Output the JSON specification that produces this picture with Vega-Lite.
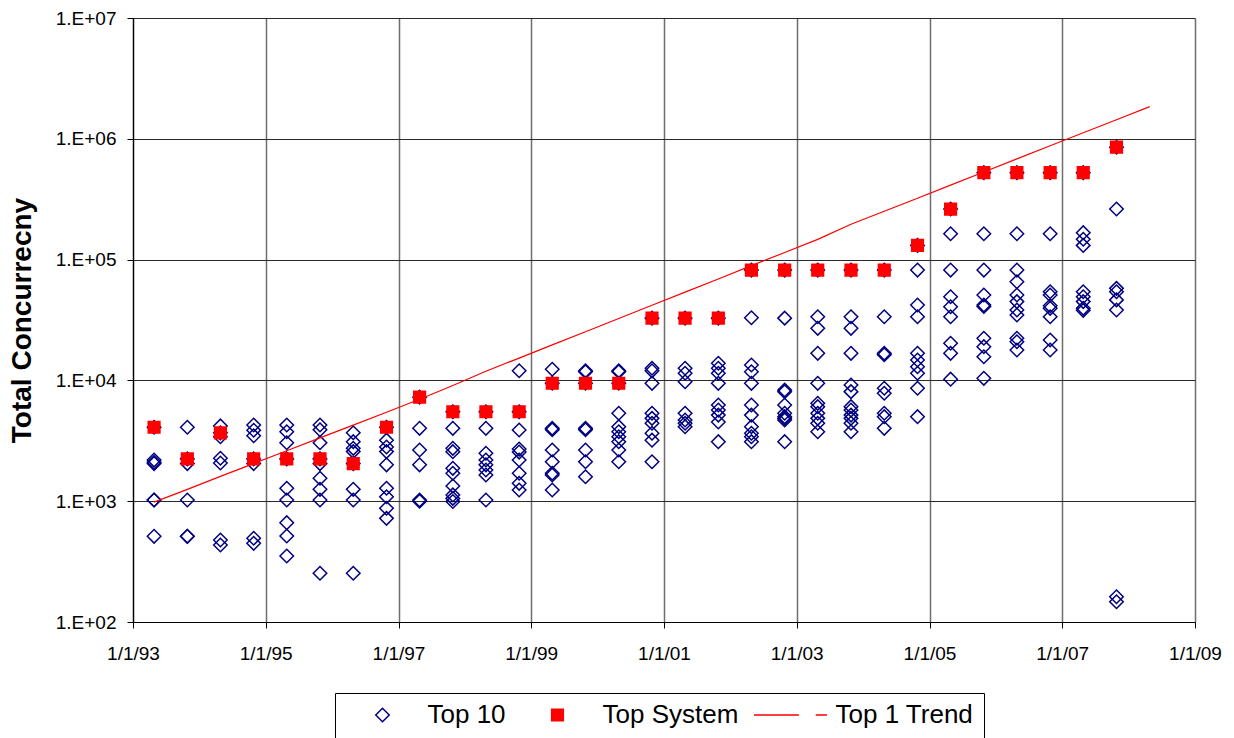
{
  "$schema": "https://vega.github.io/schema/vega-lite/v6.json",
  "autosize": "none",
  "width": 1062,
  "height": 604,
  "padding": {"left": 133, "top": 18, "right": 39, "bottom": 116},
  "background": "white",
  "config": {
    "view": {"stroke": null},
    "font": "Liberation Sans",
    "legend": {
      "orient": "none", "legendX": 202, "legendY": 675,
      "direction": "horizontal", "columns": 3,
      "strokeColor": "#000000", "fillColor": "#ffffff", "padding": 10,
      "columnPadding": 14, "symbolSize": 5329, "symbolStrokeWidth": 1.5,
      "labelFontSize": 26, "labelFont": "Liberation Sans", "labelColor": "#000000",
      "labelOffset": 7.5, "clipHeight": 24, "labelLimit": 300
    }
  },
  "datasets": {
    "top10": [
      {"date":"1993-04-27","value":4096},{"date":"1993-04-27","value":2190},{"date":"1993-04-27","value":2100},{"date":"1993-04-27","value":2048},{"date":"1993-04-27","value":1024},{"date":"1993-04-27","value":1024},{"date":"1993-04-27","value":512},
      {"date":"1993-10-27","value":4096},{"date":"1993-10-27","value":2240},{"date":"1993-10-27","value":2048},{"date":"1993-10-27","value":1024},{"date":"1993-10-27","value":512},{"date":"1993-10-27","value":512},
      {"date":"1994-04-27","value":4200},{"date":"1994-04-27","value":3680},{"date":"1994-04-27","value":3420},{"date":"1994-04-27","value":2270},{"date":"1994-04-27","value":2070},{"date":"1994-04-27","value":477},{"date":"1994-04-27","value":434},
      {"date":"1994-10-27","value":4270},{"date":"1994-10-27","value":3870},{"date":"1994-10-27","value":3480},{"date":"1994-10-27","value":2240},{"date":"1994-10-27","value":2048},{"date":"1994-10-27","value":494},{"date":"1994-10-27","value":448},
      {"date":"1995-04-27","value":4276},{"date":"1995-04-27","value":3760},{"date":"1995-04-27","value":3050},{"date":"1995-04-27","value":2240},{"date":"1995-04-27","value":1280},{"date":"1995-04-27","value":1024},{"date":"1995-04-27","value":664},{"date":"1995-04-27","value":515},{"date":"1995-04-27","value":352},
      {"date":"1995-10-27","value":4276},{"date":"1995-10-27","value":3900},{"date":"1995-10-27","value":3050},{"date":"1995-10-27","value":2240},{"date":"1995-10-27","value":2048},{"date":"1995-10-27","value":1549},{"date":"1995-10-27","value":1254},{"date":"1995-10-27","value":1024},{"date":"1995-10-27","value":253},
      {"date":"1996-04-27","value":3690},{"date":"1996-04-27","value":3110},{"date":"1996-04-27","value":2740},{"date":"1996-04-27","value":2573},{"date":"1996-04-27","value":2048},{"date":"1996-04-27","value":1254},{"date":"1996-04-27","value":1024},{"date":"1996-04-27","value":253},
      {"date":"1996-10-27","value":4096},{"date":"1996-10-27","value":3200},{"date":"1996-10-27","value":2810},{"date":"1996-10-27","value":2573},{"date":"1996-10-27","value":2000},{"date":"1996-10-27","value":1280},{"date":"1996-10-27","value":1089},{"date":"1996-10-27","value":874},{"date":"1996-10-27","value":721},
      {"date":"1997-04-27","value":7264},{"date":"1997-04-27","value":4010},{"date":"1997-04-27","value":2655},{"date":"1997-04-27","value":2000},{"date":"1997-04-27","value":1024},{"date":"1997-04-27","value":1000},
      {"date":"1997-10-27","value":5500},{"date":"1997-10-27","value":4010},{"date":"1997-10-27","value":2740},{"date":"1997-10-27","value":2570},{"date":"1997-10-27","value":1871},{"date":"1997-10-27","value":1702},{"date":"1997-10-27","value":1336},{"date":"1997-10-27","value":1127},{"date":"1997-10-27","value":1055},{"date":"1997-10-27","value":994},
      {"date":"1998-04-27","value":5500},{"date":"1998-04-27","value":4010},{"date":"1998-04-27","value":2494},{"date":"1998-04-27","value":2193},{"date":"1998-04-27","value":2000},{"date":"1998-04-27","value":1811},{"date":"1998-04-27","value":1648},{"date":"1998-04-27","value":1024},
      {"date":"1998-10-27","value":12020},{"date":"1998-10-27","value":5500},{"date":"1998-10-27","value":3883},{"date":"1998-10-27","value":2700},{"date":"1998-10-27","value":2550},{"date":"1998-10-27","value":2193},{"date":"1998-10-27","value":1702},{"date":"1998-10-27","value":1406},{"date":"1998-10-27","value":1239},
      {"date":"1999-04-27","value":12360},{"date":"1999-04-27","value":9472},{"date":"1999-04-27","value":4010},{"date":"1999-04-27","value":3900},{"date":"1999-04-27","value":2655},{"date":"1999-04-27","value":2123},{"date":"1999-04-27","value":1702},{"date":"1999-04-27","value":1648},{"date":"1999-04-27","value":1239},
      {"date":"1999-10-27","value":12000},{"date":"1999-10-27","value":11800},{"date":"1999-10-27","value":9472},{"date":"1999-10-27","value":4010},{"date":"1999-10-27","value":3900},{"date":"1999-10-27","value":2655},{"date":"1999-10-27","value":2123},{"date":"1999-10-27","value":1595},
      {"date":"2000-04-27","value":12000},{"date":"2000-04-27","value":11800},{"date":"2000-04-27","value":9472},{"date":"2000-04-27","value":5346},{"date":"2000-04-27","value":4140},{"date":"2000-04-27","value":3760},{"date":"2000-04-27","value":3420},{"date":"2000-04-27","value":3110},{"date":"2000-04-27","value":2655},{"date":"2000-04-27","value":2123},
      {"date":"2000-10-27","value":32768},{"date":"2000-10-27","value":12600},{"date":"2000-10-27","value":12000},{"date":"2000-10-27","value":9460},{"date":"2000-10-27","value":5346},{"date":"2000-10-27","value":4850},{"date":"2000-10-27","value":4420},{"date":"2000-10-27","value":3648},{"date":"2000-10-27","value":3200},{"date":"2000-10-27","value":2123},
      {"date":"2001-04-27","value":32768},{"date":"2001-04-27","value":12600},{"date":"2001-04-27","value":11460},{"date":"2001-04-27","value":9750},{"date":"2001-04-27","value":5346},{"date":"2001-04-27","value":4700},{"date":"2001-04-27","value":4420},{"date":"2001-04-27","value":4140},
      {"date":"2001-10-27","value":32768},{"date":"2001-10-27","value":13870},{"date":"2001-10-27","value":12600},{"date":"2001-10-27","value":11460},{"date":"2001-10-27","value":9460},{"date":"2001-10-27","value":6250},{"date":"2001-10-27","value":5680},{"date":"2001-10-27","value":5160},{"date":"2001-10-27","value":4530},{"date":"2001-10-27","value":3110},
      {"date":"2002-04-27","value":81920},{"date":"2002-04-27","value":33030},{"date":"2002-04-27","value":13400},{"date":"2002-04-27","value":11800},{"date":"2002-04-27","value":9460},{"date":"2002-04-27","value":6250},{"date":"2002-04-27","value":5160},{"date":"2002-04-27","value":4140},{"date":"2002-04-27","value":3650},{"date":"2002-04-27","value":3420},{"date":"2002-04-27","value":3110},
      {"date":"2002-10-27","value":81920},{"date":"2002-10-27","value":32768},{"date":"2002-10-27","value":8320},{"date":"2002-10-27","value":8070},{"date":"2002-10-27","value":6250},{"date":"2002-10-27","value":5346},{"date":"2002-10-27","value":5010},{"date":"2002-10-27","value":4850},{"date":"2002-10-27","value":4700},{"date":"2002-10-27","value":3110},
      {"date":"2003-04-27","value":81920},{"date":"2003-04-27","value":33650},{"date":"2003-04-27","value":26980},{"date":"2003-04-27","value":16750},{"date":"2003-04-27","value":9460},{"date":"2003-04-27","value":6460},{"date":"2003-04-27","value":6060},{"date":"2003-04-27","value":5346},{"date":"2003-04-27","value":4850},{"date":"2003-04-27","value":4420},{"date":"2003-04-27","value":3760},
      {"date":"2003-10-27","value":81920},{"date":"2003-10-27","value":33650},{"date":"2003-10-27","value":26980},{"date":"2003-10-27","value":16750},{"date":"2003-10-27","value":9160},{"date":"2003-10-27","value":8070},{"date":"2003-10-27","value":6060},{"date":"2003-10-27","value":5680},{"date":"2003-10-27","value":5160},{"date":"2003-10-27","value":4850},{"date":"2003-10-27","value":4420},{"date":"2003-10-27","value":3760},
      {"date":"2004-04-27","value":81920},{"date":"2004-04-27","value":33650},{"date":"2004-04-27","value":16750},{"date":"2004-04-27","value":16300},{"date":"2004-04-27","value":8610},{"date":"2004-04-27","value":7820},{"date":"2004-04-27","value":5346},{"date":"2004-04-27","value":5010},{"date":"2004-04-27","value":4010},
      {"date":"2004-10-27","value":131072},{"date":"2004-10-27","value":81920},{"date":"2004-10-27","value":42100},{"date":"2004-10-27","value":33650},{"date":"2004-10-27","value":16750},{"date":"2004-10-27","value":14760},{"date":"2004-10-27","value":12970},{"date":"2004-10-27","value":11460},{"date":"2004-10-27","value":8610},{"date":"2004-10-27","value":5010},
      {"date":"2005-04-27","value":262144},{"date":"2005-04-27","value":163840},{"date":"2005-04-27","value":81920},{"date":"2005-04-27","value":49300},{"date":"2005-04-27","value":40700},{"date":"2005-04-27","value":33650},{"date":"2005-04-27","value":20280},{"date":"2005-04-27","value":16750},{"date":"2005-04-27","value":10240},
      {"date":"2005-10-27","value":524288},{"date":"2005-10-27","value":163840},{"date":"2005-10-27","value":81920},{"date":"2005-10-27","value":50900},{"date":"2005-10-27","value":42100},{"date":"2005-10-27","value":40960},{"date":"2005-10-27","value":22330},{"date":"2005-10-27","value":19020},{"date":"2005-10-27","value":15700},{"date":"2005-10-27","value":10400},
      {"date":"2006-04-27","value":524288},{"date":"2006-04-27","value":163840},{"date":"2006-04-27","value":81920},{"date":"2006-04-27","value":65600},{"date":"2006-04-27","value":50900},{"date":"2006-04-27","value":44900},{"date":"2006-04-27","value":38300},{"date":"2006-04-27","value":34800},{"date":"2006-04-27","value":22330},{"date":"2006-04-27","value":20900},{"date":"2006-04-27","value":17860},
      {"date":"2006-10-27","value":524288},{"date":"2006-10-27","value":163840},{"date":"2006-10-27","value":54200},{"date":"2006-10-27","value":50900},{"date":"2006-10-27","value":41500},{"date":"2006-10-27","value":39500},{"date":"2006-10-27","value":33650},{"date":"2006-10-27","value":21600},{"date":"2006-10-27","value":17860},
      {"date":"2007-04-27","value":524288},{"date":"2007-04-27","value":167100},{"date":"2007-04-27","value":147300},{"date":"2007-04-27","value":131072},{"date":"2007-04-27","value":54200},{"date":"2007-04-27","value":49300},{"date":"2007-04-27","value":44900},{"date":"2007-04-27","value":39500},{"date":"2007-04-27","value":38000},
      {"date":"2007-10-27","value":851968},{"date":"2007-10-27","value":262144},{"date":"2007-10-27","value":57800},{"date":"2007-10-27","value":54200},{"date":"2007-10-27","value":46400},{"date":"2007-10-27","value":38300},{"date":"2007-10-27","value":162},{"date":"2007-10-27","value":147}
    ],
    "topsys": [
      {"date":"1993-04-27","value":4096},{"date":"1993-10-27","value":2240},{"date":"1994-04-27","value":3680},{"date":"1994-10-27","value":2240},
      {"date":"1995-04-27","value":2240},{"date":"1995-10-27","value":2240},{"date":"1996-04-27","value":2048},{"date":"1996-10-27","value":4096},
      {"date":"1997-04-27","value":7264},{"date":"1997-10-27","value":5500},{"date":"1998-04-27","value":5500},{"date":"1998-10-27","value":5500},
      {"date":"1999-04-27","value":9472},{"date":"1999-10-27","value":9472},{"date":"2000-04-27","value":9472},{"date":"2000-10-27","value":32768},
      {"date":"2001-04-27","value":32768},{"date":"2001-10-27","value":32768},{"date":"2002-04-27","value":81920},{"date":"2002-10-27","value":81920},
      {"date":"2003-04-27","value":81920},{"date":"2003-10-27","value":81920},{"date":"2004-04-27","value":81920},{"date":"2004-10-27","value":131072},
      {"date":"2005-04-27","value":262144},{"date":"2005-10-27","value":524288},{"date":"2006-04-27","value":524288},{"date":"2006-10-27","value":524288},
      {"date":"2007-04-27","value":524288},{"date":"2007-10-27","value":851968}
    ],
    "trend": [
      {"date":"1993-04-27","value":983},{"date":"1993-10-27","value":1254},{"date":"1994-04-27","value":1605},{"date":"1994-10-27","value":2048},
      {"date":"1995-04-27","value":2618},{"date":"1995-10-27","value":3342},{"date":"1996-04-27","value":4266},{"date":"1996-10-27","value":5455},
      {"date":"1997-04-27","value":6974},{"date":"1997-10-27","value":9073},{"date":"1998-04-27","value":11920},{"date":"1998-10-27","value":15295},
      {"date":"1999-04-27","value":19670},{"date":"1999-10-27","value":25300},{"date":"2000-04-27","value":32540},{"date":"2000-10-27","value":41840},
      {"date":"2001-04-27","value":53830},{"date":"2001-10-27","value":69080},{"date":"2002-04-27","value":89190},{"date":"2002-10-27","value":114460},
      {"date":"2003-04-27","value":146940},{"date":"2003-10-27","value":195970},{"date":"2004-04-27","value":251580},{"date":"2004-10-27","value":322300},
      {"date":"2005-04-27","value":413700},{"date":"2005-10-27","value":531200},{"date":"2006-04-27","value":681700},{"date":"2006-10-27","value":875400},
      {"date":"2007-04-27","value":1121000},{"date":"2007-10-27","value":1439000},{"date":"2008-04-27","value":1848000}
    ]
  },
  "encoding": {
    "x": {
      "field": "date", "type": "temporal",
      "scale": {"type": "utc", "nice": false, "domain": [{"year":1993,"month":1,"date":1,"utc":true},{"year":2009,"month":1,"date":1,"utc":true}]},
      "axis": {
        "title": null,
        "values": [{"year":1993,"month":1,"date":1,"utc":true},{"year":1995,"month":1,"date":1,"utc":true},{"year":1997,"month":1,"date":1,"utc":true},{"year":1999,"month":1,"date":1,"utc":true},{"year":2001,"month":1,"date":1,"utc":true},{"year":2003,"month":1,"date":1,"utc":true},{"year":2005,"month":1,"date":1,"utc":true},{"year":2007,"month":1,"date":1,"utc":true},{"year":2009,"month":1,"date":1,"utc":true}],
        "labelExpr": "utcFormat(datum.value, '%-m/%-d/%y')",
        "grid": true, "gridColor": "#6e6e6e", "gridWidth": 1.5,
        "domainColor": "#000000", "domainWidth": 1.2, "tickColor": "#000000", "tickSize": 6,
        "labelFontSize": 19, "labelColor": "#000000", "labelPadding": 16, "labelFlush": false, "labelOverlap": false, "labelFont": "Liberation Sans"
      }
    },
    "y": {
      "field": "value", "type": "quantitative",
      "scale": {"type": "log", "domain": [100, 10000000], "nice": false},
      "axis": {
        "title": "Total Concurrecny", "titleFontSize": 28, "titleFontWeight": "bold", "titleColor": "#000000", "titleFont": "Liberation Sans",
        "titleX": -97, "titleY": 302,
        "values": [100, 1000, 10000, 100000, 1000000, 10000000],
        "labelExpr": "'1.E+0' + round(log(datum.value)/LN10)",
        "grid": true, "gridColor": "#2a2a2a", "gridWidth": 1,
        "domainColor": "#000000", "domainWidth": 1.2, "tickColor": "#000000", "tickSize": 6,
        "labelFontSize": 19, "labelColor": "#000000", "labelPadding": 11, "labelFont": "Liberation Sans"
      }
    }
  },
  "layer": [
    {
      "data": {"name": "top10"},
      "mark": {"type": "point", "filled": true, "size": 5329, "strokeWidth": 1.5, "opacity": 1},
      "encoding": {
        "shape": {
          "datum": "Top 10",
          "scale": {"domain": ["Top 10", "Top System", "Top 1 Trend"], "range": ["M-0.185,0L0,-0.185L0.185,0L0,0.185Z", "M-0.16,-0.16H0.16V0.16H-0.16Z", "M-1,0H0.23M0.69,0H1"]},
          "legend": {"title": null}
        },
        "fill": {
          "datum": "Top 10",
          "scale": {"domain": ["Top 10", "Top System", "Top 1 Trend"], "range": ["transparent", "#ff0000", "transparent"]},
          "legend": {"title": null}
        },
        "stroke": {
          "datum": "Top 10",
          "scale": {"domain": ["Top 10", "Top System", "Top 1 Trend"], "range": ["#000080", "#ff0000", "#ff0000"]},
          "legend": {"title": null}
        }
      }
    },
    {
      "data": {"name": "topsys"},
      "mark": {"type": "point", "filled": true, "size": 5329, "strokeWidth": 1.5, "opacity": 1},
      "encoding": {
        "shape": {"datum": "Top System"},
        "fill": {"datum": "Top System"},
        "stroke": {"datum": "Top System"}
      }
    },
    {
      "data": {"name": "trend"},
      "mark": {"type": "line", "strokeWidth": 1.2},
      "encoding": {"stroke": {"datum": "Top 1 Trend"}}
    }
  ]
}
